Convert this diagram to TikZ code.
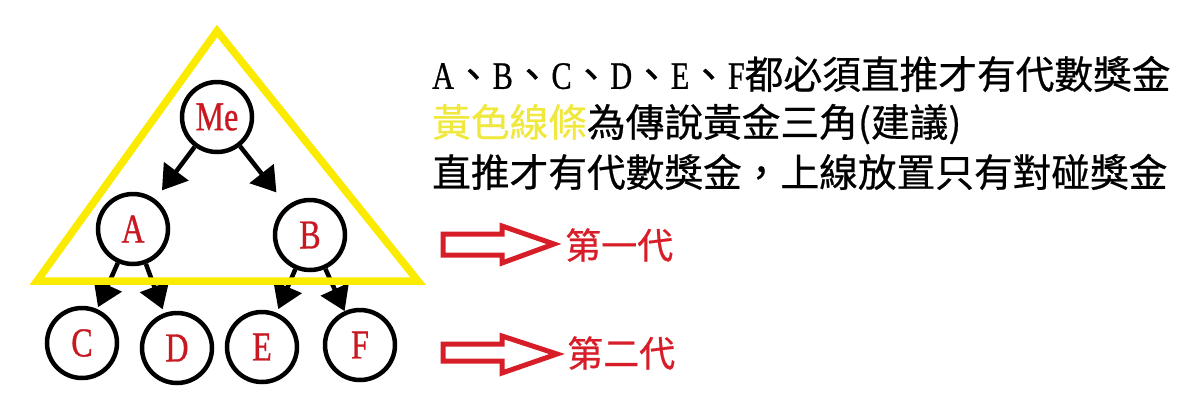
\documentclass[tikz,border=0pt]{standalone}
\usepackage{fontspec}
\newfontfamily\cjk[FakeBold=0.6]{Noto Sans CJK TC}
\newfontfamily\latn[FakeStretch=0.78,FakeBold=0.8]{Liberation Serif}
\usetikzlibrary{arrows.meta}
\definecolor{goldline}{RGB}{250,235,0}
\definecolor{goldtext}{RGB}{240,232,60}
\definecolor{labelred}{RGB}{200,25,35}
\definecolor{arrowred}{RGB}{215,30,40}

\begin{document}
\begin{tikzpicture}[x=1pt, y=-1pt,
	member/.style={circle, draw=black, line width=4.5pt, minimum size=70pt, inner sep=0pt, text=labelred, font=\latn\fontsize{41}{41}\selectfont},
	link/.style={line width=4.5pt, -{Triangle[length=24pt,width=30pt]}},
	blockarrow/.style={draw=arrowred, line width=5pt, line join=miter},
	note/.style={anchor=west, inner sep=0pt, font=\cjk\fontsize{38.7}{38.7}\selectfont},
	gen/.style={anchor=west, inner sep=0pt, text=arrowred, font=\cjk\fontsize{36}{36}\selectfont}]
	\useasboundingbox (0,0) rectangle (1192,408);

	% Define nodes with their coordinates
	\node[member] (Me) at (217, 117) {Me};
	\node[member] (A) at (133, 229) {A};
	\node[member] (B) at (310, 235) {B};
	\node[member] (C) at (82, 343) {C};
	\node[member] (D) at (177, 348) {D};
	\node[member] (E) at (262, 347) {E};
	\node[member] (F) at (360, 345) {F};

	% Draw edges
	\draw[link, shorten >=11pt] (Me) -- (A);
	\draw[link, shorten >=17pt] (Me) -- (B);
	\draw[link, shorten >=2pt] (A) -- (C);
	\draw[link, shorten >=4pt] (A) -- (D);
	\draw[link, shorten >=4pt] (B) -- (E);
	\draw[link] (B) -- (F);

	% golden triangle
	\draw[goldline, line width=7.5pt, line join=miter] (217, 31) -- (418, 281) -- (37, 281) -- cycle;

	% notes
	\node[note] (rule1) at (432, 74) {{\latn A}、{\latn B}、{\latn C}、{\latn D}、{\latn E}、{\latn F}都必須直推才有代數獎金};
	\node[note] (rule2) at (432, 124) {\textcolor{goldtext}{黃色線條}為傳說黃金三角(建議)};
	\node[note] (rule3) at (432, 172) {直推才有代數獎金，上線放置只有對碰獎金};

	% generations
	\draw[blockarrow] (443, 234) -- (502, 234) -- (502, 226) -- (554, 244) -- (502, 263) -- (502, 255) -- (443, 255) -- cycle;
	\node[gen] (gen1) at (565, 245) {第一代};
	\draw[blockarrow] (443, 344) -- (502, 344) -- (502, 336) -- (557, 354) -- (502, 373) -- (502, 361) -- (443, 361) -- cycle;
	\node[gen] (gen2) at (567, 353) {第二代};

\end{tikzpicture}
\end{document}
